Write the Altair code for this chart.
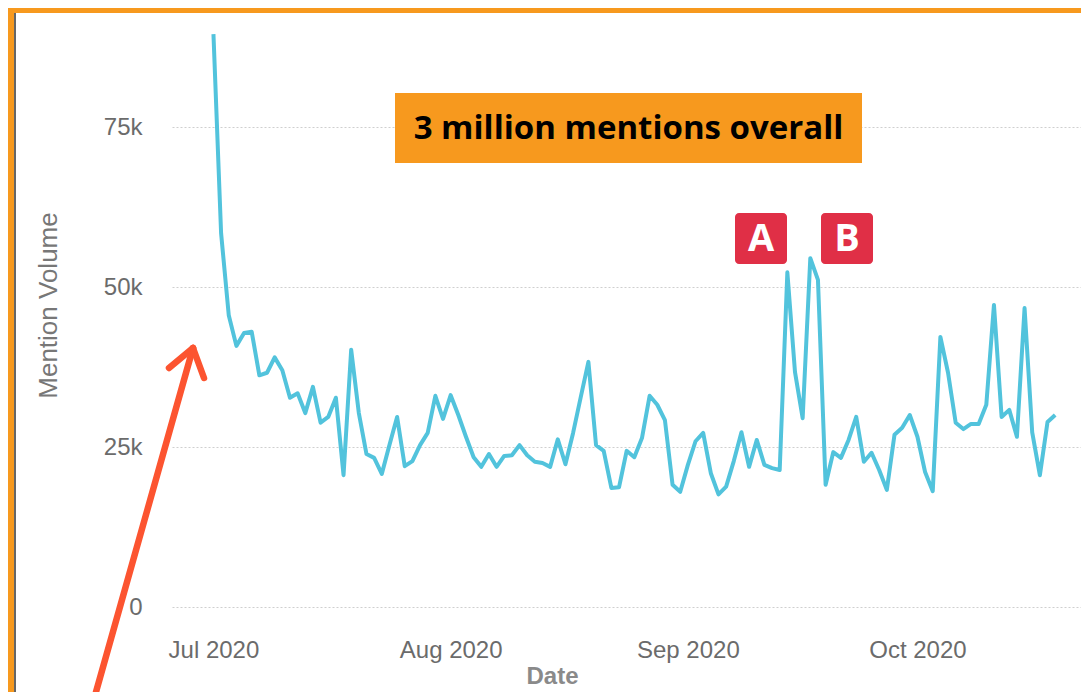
import altair as alt
import pandas as pd

# ---- data ----
start_date = "2020-07-01"
mention_volume = [
    89500, 58400, 45600, 40800, 42800, 43000, 36200, 36600, 39000, 37000,
    32700, 33400, 30300, 34400, 28800, 29700, 32700, 20600, 40200, 30300,
    23900, 23300, 20800, 25300, 29700, 22000, 22800, 25300, 27200, 33000,
    29400, 33100, 30000, 26600, 23400, 21900, 23900, 21900, 23600, 23700,
    25300, 23700, 22700, 22500, 21900, 26200, 22300, 27200, 32800, 38300,
    25300, 24400, 18600, 18700, 24400, 23400, 26400, 33000, 31600, 29200,
    19100, 18000, 22200, 25900, 27200, 20900, 17600, 18800, 22800, 27300,
    21900, 26100, 22200, 21700, 21400, 52300, 36700, 29500, 54500, 51100,
    19100, 24200, 23300, 26100, 29700, 22700, 24100, 21400, 18300, 26900,
    28000, 30000, 26600, 21100, 18100, 42200, 36600, 28800, 27800, 28600,
    28600, 31600, 47200, 29700, 30800, 26600, 46700, 27300, 20600, 28900,
    30000,
]
y_ticks = [0, 25000, 50000, 75000]
headline = "3 million mentions overall"
peak_labels = ["A", "B"]

dates = pd.date_range(start_date, periods=len(mention_volume), freq="D")
df = pd.DataFrame({"Date": dates.strftime("%Y-%m-%dT%H:%M:%S"), "Mention Volume": mention_volume})

W, H = 909, 576
one = alt.Data(values=[{}])

line = alt.Chart(df).mark_line(color="#52C3DC", strokeWidth=4, strokeJoin="round").encode(
    x=alt.X(
        "Date:T",
        title="Date",
        scale=alt.Scale(domain=[
            alt.DateTime(year=2020, month=6, date=25, hours=14),
            alt.DateTime(year=2020, month=10, date=22, hours=9),
        ]),
        axis=alt.Axis(
            format="%b %Y", tickCount="month", grid=False, domain=False, ticks=False,
            labelFlush=False, labelPadding=31, labelFontSize=24, labelColor="#6b6b6b",
            titleFontSize=24, titleFontWeight="bold", titleColor="#8a8a8a",
            titleX=380, titleY=76, titleBaseline="alphabetic", titleAnchor="start", titleAlign="center",
        ),
    ),
    y=alt.Y(
        "Mention Volume:Q",
        title="Mention Volume",
        scale=alt.Scale(domain=[0, 90000], nice=False),
        axis=alt.Axis(
            values=y_ticks,
            labelExpr="datum.value == 0 ? '0' : format(datum.value / 1000, 'd') + 'k'",
            domain=False, ticks=False, labelPadding=30,
            labelFontSize=24, labelColor="#6b6b6b",
            gridColor="#cfcfcf", gridDash=[2, 2], gridWidth=1,
            titleFontSize=26, titleFontWeight="normal", titleColor="#777777",
            titleX=-124, titleY=274, titleAngle=-90, titleBaseline="middle", titleAlign="center",
        ),
    ),
)

# decorative frame (orange border)
frame_left = alt.Chart(one).mark_rect(color="#F7991E").encode(
    x=alt.value(-164), x2=alt.value(-158), y=alt.value(-23), y2=alt.value(661))
frame_top = alt.Chart(one).mark_rect(color="#F7991E").encode(
    x=alt.value(-164), x2=alt.value(W), y=alt.value(-23), y2=alt.value(-18))
frame_dark = alt.Chart(one).mark_rule(color="#333333", strokeWidth=1.5).encode(
    x=alt.value(-157), y=alt.value(-18), y2=alt.value(661))

# headline box
head_box = alt.Chart(one).mark_rect(color="#F7991E").encode(
    x=alt.value(223), x2=alt.value(690), y=alt.value(62), y2=alt.value(132))
head_text = alt.Chart(one).mark_text(
    text=headline, font="Open Sans", fontWeight="bold", fontSize=33, color="#000000",
    align="center", baseline="middle").encode(x=alt.value(456.5), y=alt.value(98))

# A / B markers
a_box = alt.Chart(one).mark_rect(color="#E02F46", cornerRadius=4).encode(
    x=alt.value(563), x2=alt.value(615), y=alt.value(182), y2=alt.value(233))
b_box = alt.Chart(one).mark_rect(color="#E02F46", cornerRadius=4).encode(
    x=alt.value(649), x2=alt.value(701), y=alt.value(182), y2=alt.value(233))
a_text = alt.Chart(one).mark_text(
    text=peak_labels[0], font="Open Sans", fontWeight="bold", fontSize=38, color="#ffffff",
    align="center", baseline="middle").encode(x=alt.value(589), y=alt.value(209))
b_text = alt.Chart(one).mark_text(
    text=peak_labels[1], font="Open Sans", fontWeight="bold", fontSize=38, color="#ffffff",
    align="center", baseline="middle").encode(x=alt.value(675), y=alt.value(209))

# arrow
arrow_col = "#FC5430"
shaft = alt.Chart(one).mark_rule(color=arrow_col, strokeWidth=6.5, strokeCap="round").encode(
    x=alt.value(21), y=alt.value(317), x2=alt.value(-76), y2=alt.value(661))
wing1 = alt.Chart(one).mark_rule(color=arrow_col, strokeWidth=6.5, strokeCap="round").encode(
    x=alt.value(21), y=alt.value(317), x2=alt.value(-3), y2=alt.value(337))
wing2 = alt.Chart(one).mark_rule(color=arrow_col, strokeWidth=6.5, strokeCap="round").encode(
    x=alt.value(21), y=alt.value(317), x2=alt.value(32), y2=alt.value(347))

chart = alt.layer(
    line, frame_left, frame_top, frame_dark, head_box, head_text,
    a_box, b_box, a_text, b_text, shaft, wing1, wing2,
).properties(
    width=W, height=H,
    autosize=alt.AutoSizeParams(type="none"),
    padding={"left": 164, "top": 23, "right": 0, "bottom": 85},
).configure(font="Liberation Sans").configure_view(strokeWidth=0)

chart.save("out.html", embed_options={"renderer": "svg", "actions": False})
